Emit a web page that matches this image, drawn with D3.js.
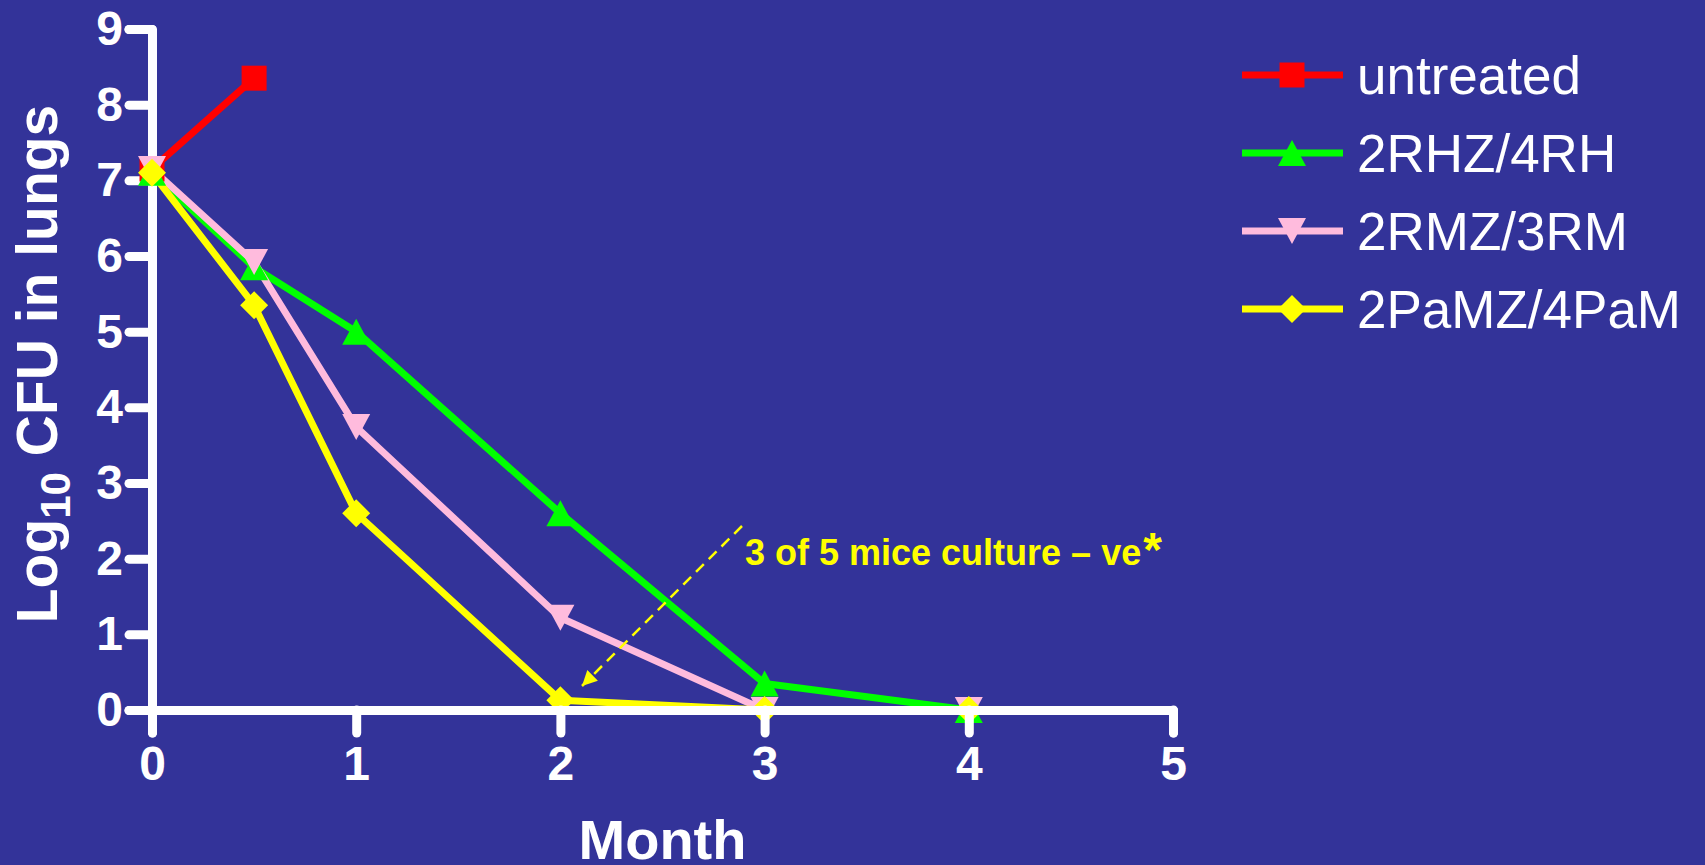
<!DOCTYPE html>
<html>
<head>
<meta charset="utf-8">
<script src="https://cdn.jsdelivr.net/npm/d3@7"></script>
<style>
  html, body { margin: 0; padding: 0; background: #333399; overflow: hidden; }
  svg { display: block; }
  text { font-family: "Liberation Sans", Arial, Helvetica, sans-serif; }
</style>
</head>
<body>
<svg id="chart" width="1705" height="865"></svg>
<script>
// Lung CFU counts (log10) over treatment time
const months     = [0, 0.5, 1, 2, 3, 4];
const untreated  = [7.15, 8.35];
const rhz4rh     = [7.1, 5.85, 5.0, 2.6, 0.35, 0];
const rmz3rm     = [7.15, 5.92, 3.74, 1.22, 0, 0];
const pamz4pam   = [7.1, 5.35, 2.6, 0.13, 0, 0];

const seriesNames  = ["untreated", "2RHZ/4RH", "2RMZ/3RM", "2PaMZ/4PaM"];
const seriesColors = ["#ff0000", "#00ff00", "#ffbbdd", "#ffff00"];
const seriesShapes = ["square", "triangleUp", "triangleDown", "diamond"];

const xTicks = [0, 1, 2, 3, 4, 5];
const yTicks = [0, 1, 2, 3, 4, 5, 6, 7, 8, 9];

const annotationText = "3 of 5 mice culture \u2013 ve";

const series = [untreated, rhz4rh, rmz3rm, pamz4pam].map((vals, i) => ({
  name: seriesNames[i],
  color: seriesColors[i],
  shape: seriesShapes[i],
  points: vals.map((v, j) => ({ x: months[j], y: v }))
}));

const svg = d3.select("#chart");
svg.append("rect").attr("width", 1705).attr("height", 865).attr("fill", "#333399");

const x = d3.scaleLinear().domain([0, 5]).range([152, 1173]);
const y = d3.scaleLinear().domain([0, 9]).range([710, 29]);

// Marker shapes centred on their bounding box
const shapes = {
  square: { draw(ctx, s) { const h = 12.5; ctx.moveTo(-h, -h); ctx.lineTo(h, -h); ctx.lineTo(h, h); ctx.lineTo(-h, h); ctx.closePath(); } },
  triangleUp: { draw(ctx, s) { const w = 14, h = 13; ctx.moveTo(0, -h); ctx.lineTo(w, h); ctx.lineTo(-w, h); ctx.closePath(); } },
  triangleDown: { draw(ctx, s) { const w = 14, h = 13; ctx.moveTo(0, h); ctx.lineTo(w, -h); ctx.lineTo(-w, -h); ctx.closePath(); } },
  diamond: { draw(ctx, s) { const r = 14; ctx.moveTo(0, -r); ctx.lineTo(r, 0); ctx.lineTo(0, r); ctx.lineTo(-r, 0); ctx.closePath(); } }
};
const symbolPath = shape => d3.symbol().type(shapes[shape]).size(1)();

const axisStyle = g => {
  g.selectAll("path.domain, .tick line")
    .attr("stroke", "#ffffff")
    .attr("stroke-width", 9)
    .attr("stroke-linecap", "round")
    .attr("stroke-linejoin", "round")
    .attr("fill", "none");
  g.selectAll(".tick text")
    .attr("fill", "#ffffff")
    .attr("font-size", 48)
    .attr("font-weight", "bold")
    .attr("font-family", "'Liberation Sans', Arial, sans-serif");
};

// Y axis (under the data)
svg.append("g")
  .attr("transform", `translate(${x(0)},0)`)
  .call(d3.axisLeft(y).tickValues(yTicks).tickFormat(d3.format("d"))
    .tickSize(23).tickSizeOuter(23).tickPadding(6))
  .call(axisStyle);

// Series lines and markers
const line = d3.line().x(d => x(d.x)).y(d => y(d.y));
const sg = svg.append("g");
series.forEach(s => {
  sg.append("path")
    .datum(s.points)
    .attr("d", line)
    .attr("fill", "none")
    .attr("stroke", s.color)
    .attr("stroke-width", 7)
    .attr("stroke-linejoin", "round");
});
series.forEach(s => {
  sg.selectAll(null)
    .data(s.points)
    .join("path")
    .attr("d", symbolPath(s.shape))
    .attr("transform", d => `translate(${x(d.x)},${y(d.y)})`)
    .attr("fill", s.color);
});

// X axis (over the data)
svg.append("g")
  .attr("transform", `translate(0,${y(0)})`)
  .call(d3.axisBottom(x).tickValues(xTicks).tickFormat(d3.format("d"))
    .tickSize(23).tickSizeOuter(23).tickPadding(13))
  .call(axisStyle);

// Axis titles
svg.append("text")
  .attr("x", x(2.5)).attr("y", 859)
  .attr("text-anchor", "middle")
  .attr("fill", "#ffffff")
  .attr("font-size", 56)
  .attr("font-weight", "bold")
  .text("Month");

const yTitle = svg.append("text")
  .attr("transform", "translate(57,364) rotate(-90)")
  .attr("text-anchor", "middle")
  .attr("fill", "#ffffff")
  .attr("font-size", 57)
  .attr("font-weight", "bold");
yTitle.append("tspan").text("Log");
yTitle.append("tspan").attr("font-size", 42).attr("dy", 13).text("10");
yTitle.append("tspan").attr("dy", -13).text(" CFU in lungs");

// Annotation with dashed pointer
const defs = svg.append("defs");
defs.append("marker")
  .attr("id", "arrowHead")
  .attr("viewBox", "0 0 10 10")
  .attr("refX", 10).attr("refY", 5)
  .attr("markerWidth", 6).attr("markerHeight", 6)
  .attr("markerUnits", "strokeWidth")
  .attr("orient", "auto")
  .append("path")
  .attr("d", "M0,0 L10,5 L0,10 Z")
  .attr("fill", "#ffff00");

svg.append("line")
  .attr("x1", 742).attr("y1", 526)
  .attr("x2", 582).attr("y2", 686)
  .attr("stroke", "#ffff00")
  .attr("stroke-width", 2.5)
  .attr("stroke-dasharray", "11,7")
  .attr("marker-end", "url(#arrowHead)");

const ann = svg.append("text")
  .attr("x", 745).attr("y", 565)
  .attr("fill", "#ffff00")
  .attr("font-size", 36)
  .attr("font-weight", "bold");
ann.append("tspan").text(annotationText);
ann.append("tspan").attr("font-size", 48).attr("dx", 2).attr("dy", 1).text("*");

// Legend
const legend = svg.append("g").attr("transform", "translate(1242,75)");
series.forEach((s, i) => {
  const row = legend.append("g").attr("transform", `translate(0,${i * 78})`);
  row.append("line")
    .attr("x1", 0).attr("x2", 101)
    .attr("y1", 0).attr("y2", 0)
    .attr("stroke", s.color)
    .attr("stroke-width", 7);
  row.append("path")
    .attr("d", symbolPath(s.shape))
    .attr("transform", "translate(50,0)")
    .attr("fill", s.color);
  row.append("text")
    .attr("x", 115).attr("y", 0).attr("dy", "0.35em")
    .attr("fill", "#ffffff")
    .attr("font-size", 53)
    .text(s.name);
});
</script>
</body>
</html>
